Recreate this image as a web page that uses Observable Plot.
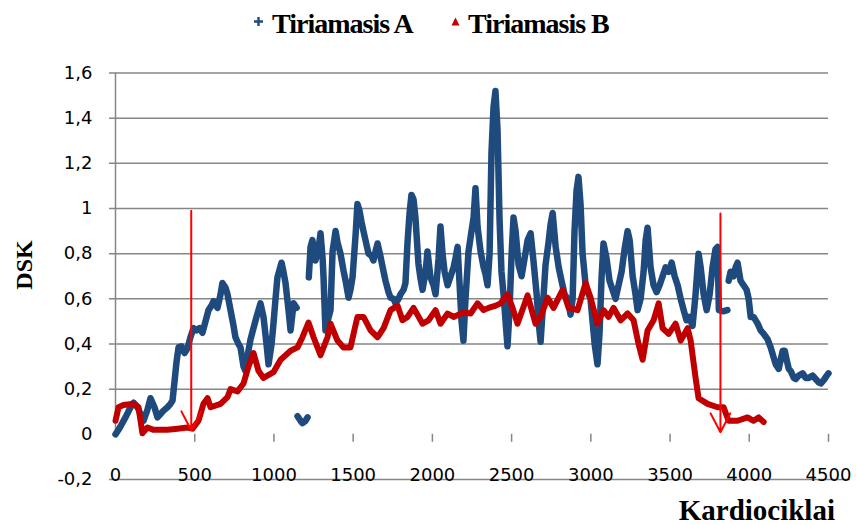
<!DOCTYPE html>
<html>
<head>
<meta charset="utf-8">
<script src="https://cdn.jsdelivr.net/npm/d3@7"></script>
<script src="https://cdn.jsdelivr.net/npm/@observablehq/plot@0.6"></script>
<style>
  body { margin: 0; background: #fff; }
  #wrap { position: relative; width: 856px; height: 525px; overflow: hidden; }
  .serif { font-family: "Liberation Serif", "Times New Roman", serif; font-weight: bold; color: #000; white-space: nowrap; }
  .leg { position: absolute; top: 10px; font-size: 28px; line-height: 28px; letter-spacing: -1px; }
  .mk { position: absolute; top: 16px; }
  #xtitle { position: absolute; right: 21px; top: 497px; font-size: 29px; line-height: 26px; }
  #ytitle { position: absolute; left: 24px; top: 265px; font-size: 24px; line-height: 24px; transform: translate(-50%, -50%) rotate(-90deg); }
  svg { position: absolute; left: 0; top: 0; }
</style>
</head>
<body>
<div id="wrap">
  <svg class="mk" style="left:253px" width="11" height="11"><path d="M5.5 1 V10 M1 5.5 H10" stroke="#1F4A7E" stroke-width="2.4"/></svg>
  <div class="serif leg" style="left:272px" id="legA"></div>
  <svg class="mk" style="left:450px" width="11" height="11"><path d="M5.5 1.5 L9.5 9.5 L1.5 9.5 Z" fill="#C00000"/></svg>
  <div class="serif leg" style="left:468px" id="legB"></div>
  <div class="serif" id="xtitle"></div>
  <div class="serif" id="ytitle"></div>
</div>
<script>
// ---- texts ----
const seriesNames = ["Tiriamasis A", "Tiriamasis B"];
const xTitle = "Kardiociklai";
const yTitle = "DSK";

// ---- axes ----
const xTicks = [0, 500, 1000, 1500, 2000, 2500, 3000, 3500, 4000, 4500];
const yTicks = [-0.2, 0, 0.2, 0.4, 0.6, 0.8, 1, 1.2, 1.4, 1.6];
const yTickLabels = ["-0,2", "0", "0,2", "0,4", "0,6", "0,8", "1", "1,2", "1,4", "1,6"];

// ---- Tiriamasis A (null = gap in the series) ----
const aCycles = [0, 19, 63, 95, 114, 139, 158, 177, 202, 221, 246, 265, 284, 303, 328, 347, 360, 372, 385, 398,
  417, 436, 454, 473, 492, 511, 530, 549, 568, 587, 606, 619, 644, 663, 675, 694, 707, 726, 745, 757,
  776, 789, 808, 820, 839, 852, 871, 890, 915, 934, 953, 966, 985, 997, 1010, 1022, 1048, 1060, 1073, 1092,
  1105, 1124, 1143, 1146, 1149, 1168, 1180, 1199, 1212, 1216,
  1220, 1231, 1243, 1262, 1281, 1294, 1307, 1313, 1325, 1338, 1357, 1370, 1389, 1401, 1420, 1439, 1452, 1471, 1483, 1496,
  1515, 1527, 1540, 1553, 1565, 1584, 1597, 1616, 1628, 1641, 1654, 1673, 1692, 1704, 1723, 1736, 1755, 1767, 1786, 1799,
  1818, 1830, 1843, 1856, 1868, 1881, 1893, 1912, 1925, 1938, 1957, 1969, 1988, 2007, 2020, 2039, 2051, 2064, 2077, 2096,
  2115, 2134, 2146, 2159, 2172, 2184, 2196, 2209, 2228, 2247, 2260, 2272, 2285, 2304, 2323, 2335, 2348, 2361, 2373, 2386,
  2398, 2411, 2424, 2436, 2449, 2462, 2474, 2487, 2500, 2512, 2525, 2544, 2563, 2582, 2601, 2620, 2639, 2658, 2670, 2683,
  2696, 2714, 2733, 2746, 2759, 2778, 2797, 2815, 2834, 2853, 2872, 2885, 2897, 2910, 2922, 2935, 2948, 2967, 2986, 2998,
  3011, 3024, 3042, 3055, 3068, 3080, 3099, 3118, 3137, 3156, 3175, 3194, 3213, 3232, 3245, 3264, 3282, 3295, 3314, 3333,
  3346, 3358, 3377, 3396, 3415, 3434, 3453, 3472, 3491, 3510, 3529, 3548, 3567, 3586, 3604, 3623, 3642, 3661, 3680, 3693,
  3712, 3731, 3750, 3768, 3787, 3800, 3808, 3835, 3862, 3866,
  3870, 3882, 3901, 3914, 3926, 3945, 3964, 3983, 3996, 4009, 4027, 4053, 4072, 4091, 4116, 4135, 4154, 4167, 4186, 4198,
  4211, 4224, 4236, 4249, 4262, 4281, 4293, 4312, 4337, 4356, 4375, 4400, 4419, 4438, 4451, 4470, 4489, 4500];
const aValues = [0.00, 0.02, 0.075, 0.12, 0.14, 0.12, 0.09, 0.06, 0.11, 0.16, 0.12, 0.075, 0.09, 0.105, 0.12, 0.135, 0.15, 0.23, 0.32, 0.385,
  0.39, 0.36, 0.38, 0.43, 0.47, 0.46, 0.47, 0.45, 0.50, 0.55, 0.57, 0.59, 0.56, 0.62, 0.67, 0.65, 0.62, 0.55, 0.48, 0.43,
  0.40, 0.385, 0.30, 0.28, 0.37, 0.42, 0.47, 0.52, 0.58, 0.52, 0.40, 0.31, 0.40, 0.49, 0.60, 0.695, 0.76, 0.72, 0.67, 0.55,
  0.46, 0.58, 0.56, null, 0.08, 0.06, 0.05, 0.06, 0.075, null,
  0.695, 0.83, 0.86, 0.77, 0.82, 0.89, 0.78, 0.695, 0.46, 0.50, 0.55, 0.81, 0.90, 0.85, 0.80, 0.725, 0.68, 0.605, 0.64, 0.695,
  0.88, 1.02, 0.99, 0.94, 0.90, 0.84, 0.80, 0.79, 0.77, 0.81, 0.845, 0.785, 0.72, 0.68, 0.63, 0.605, 0.60, 0.58, 0.60, 0.62,
  0.64, 0.67, 0.85, 0.98, 1.06, 1.04, 0.96, 0.755, 0.69, 0.64, 0.72, 0.81, 0.695, 0.66, 0.62, 0.78, 0.92, 0.80, 0.72, 0.66,
  0.70, 0.74, 0.78, 0.83, 0.66, 0.50, 0.415, 0.60, 0.81, 0.90, 0.96, 1.09, 0.92, 0.81, 0.74, 0.71, 0.66, 0.80, 1.25, 1.45,
  1.52, 1.35, 0.95, 0.72, 0.62, 0.50, 0.39, 0.55, 0.80, 0.96, 0.90, 0.75, 0.70, 0.78, 0.86, 0.89, 0.76, 0.62, 0.50, 0.41,
  0.55, 0.75, 0.85, 0.93, 0.98, 0.83, 0.74, 0.68, 0.62, 0.60, 0.53, 0.60, 0.90, 1.08, 1.14, 1.02, 0.80, 0.66, 0.62, 0.60,
  0.50, 0.40, 0.31, 0.45, 0.70, 0.845, 0.78, 0.68, 0.64, 0.60, 0.66, 0.72, 0.82, 0.90, 0.86, 0.70, 0.62, 0.55, 0.60, 0.72,
  0.86, 0.915, 0.74, 0.66, 0.63, 0.66, 0.70, 0.74, 0.72, 0.76, 0.70, 0.66, 0.60, 0.55, 0.505, 0.52, 0.48, 0.62, 0.80, 0.74,
  0.62, 0.55, 0.62, 0.74, 0.82, 0.83, 0.55, 0.545, 0.55, null,
  0.68, 0.72, 0.70, 0.74, 0.76, 0.68, 0.66, 0.64, 0.60, 0.52, 0.52, 0.49, 0.46, 0.445, 0.42, 0.385, 0.34, 0.31, 0.29, 0.33,
  0.37, 0.37, 0.33, 0.29, 0.28, 0.25, 0.245, 0.26, 0.27, 0.25, 0.25, 0.26, 0.245, 0.23, 0.225, 0.24, 0.26, 0.27];

// ---- Tiriamasis B ----
const bCycles = [0, 19, 50, 114, 145, 170, 202, 240, 328, 391, 454, 486, 524, 555, 581, 600, 663, 707, 726, 770,
  808, 839, 871, 903, 934, 997, 1042, 1105, 1149, 1180, 1218, 1250, 1294, 1338, 1357, 1401, 1439, 1483, 1527, 1565,
  1610, 1654, 1692, 1736, 1780, 1811, 1843, 1881, 1938, 1976, 2020, 2051, 2096, 2134, 2196, 2241, 2285, 2323, 2354, 2400,
  2430, 2474, 2506, 2537, 2601, 2651, 2683, 2727, 2765, 2822, 2860, 2916, 2967, 2998, 3042, 3080, 3112, 3143, 3188, 3232,
  3270, 3301, 3327, 3358, 3396, 3428, 3453, 3491, 3535, 3567, 3611, 3630, 3661, 3680, 3737, 3800, 3838, 3869, 3926, 3989,
  4027, 4059, 4091];
const bValues = [0.06, 0.12, 0.13, 0.135, 0.12, 0.005, 0.03, 0.02, 0.02, 0.025, 0.03, 0.025, 0.06, 0.135, 0.16, 0.12, 0.135, 0.165, 0.20, 0.19,
  0.225, 0.30, 0.36, 0.28, 0.25, 0.275, 0.33, 0.37, 0.385, 0.43, 0.495, 0.43, 0.35, 0.43, 0.49, 0.415, 0.385, 0.385, 0.52, 0.52,
  0.46, 0.43, 0.47, 0.55, 0.57, 0.505, 0.52, 0.56, 0.49, 0.505, 0.55, 0.49, 0.535, 0.52, 0.54, 0.535, 0.58, 0.55, 0.56, 0.57,
  0.58, 0.62, 0.56, 0.49, 0.615, 0.49, 0.52, 0.605, 0.56, 0.64, 0.56, 0.55, 0.67, 0.605, 0.49, 0.55, 0.52, 0.56, 0.505, 0.535,
  0.505, 0.40, 0.33, 0.46, 0.505, 0.58, 0.47, 0.445, 0.49, 0.415, 0.47, 0.415, 0.25, 0.16, 0.135, 0.12, 0.12, 0.06, 0.06, 0.075,
  0.06, 0.075, 0.055];

// ---- red arrow markers ----
const markerCycles = [478, 3818];
const markerTop = [0.99, 0.978];
const markerTip = [0.018, 0.009];

// ---- colours ----
const colorA = "#1F4A7E";
const colorB = "#C00000";
const gridColor = "#868686";

const aData = aCycles.map((c, i) => ({x: c, y: aValues[i] == null ? NaN : aValues[i]}));
const bData = bCycles.map((c, i) => ({x: c, y: bValues[i]}));
const markers = markerCycles.map((c, i) => ({x: c, y1: markerTop[i], y2: markerTip[i]}));

document.getElementById("legA").textContent = seriesNames[0];
document.getElementById("legB").textContent = seriesNames[1];
document.getElementById("xtitle").textContent = xTitle;
document.getElementById("ytitle").textContent = yTitle;

const chart = Plot.plot({
  width: 856,
  height: 525,
  marginTop: 72.5,
  marginBottom: 46,
  marginLeft: 115,
  marginRight: 28,
  x: {domain: [0, 4500]},
  y: {domain: [-0.2, 1.6]},
  style: {fontFamily: "'DejaVu Sans', sans-serif", fontSize: "18px", color: "#000", background: "transparent", overflow: "visible"},
  marks: [
    Plot.ruleY(yTicks.filter(d => d !== 0 && d !== -0.2), {stroke: gridColor, strokeWidth: 1.5, insetLeft: -6}),
    Plot.ruleY([-0.2], {stroke: gridColor, strokeWidth: 1.5, insetLeft: -6, insetRight: -22}),
    Plot.ruleX([0], {y1: 0, y2: 1.6, stroke: gridColor, strokeWidth: 1.5}),
    Plot.ruleX(xTicks.filter(d => d !== 0), {y1: 0, y2: 0, insetBottom: -8, stroke: gridColor, strokeWidth: 1.5}),
    Plot.axisY({ticks: yTicks, tickSize: 0, tickPadding: 23, tickFormat: d => yTickLabels[yTicks.indexOf(d)], label: null}),
    Plot.axisX({ticks: xTicks, tickSize: 0, tickPadding: 0, lineAnchor: "bottom", dy: 1, tickFormat: d => String(d), label: null}),
    Plot.line(aData, {x: "x", y: "y", stroke: colorA, strokeWidth: 6.5, strokeLinejoin: "round", strokeLinecap: "round"}),
    Plot.line(bData, {x: "x", y: "y", stroke: colorB, strokeWidth: 6, strokeLinejoin: "round", strokeLinecap: "round"}),
    Plot.arrow(markers, {x: "x", y1: "y1", y2: "y2", stroke: "#FF0000", strokeWidth: 2, headLength: 16, headAngle: 55})
  ]
});
document.getElementById("wrap").prepend(chart);
</script>
</body>
</html>
